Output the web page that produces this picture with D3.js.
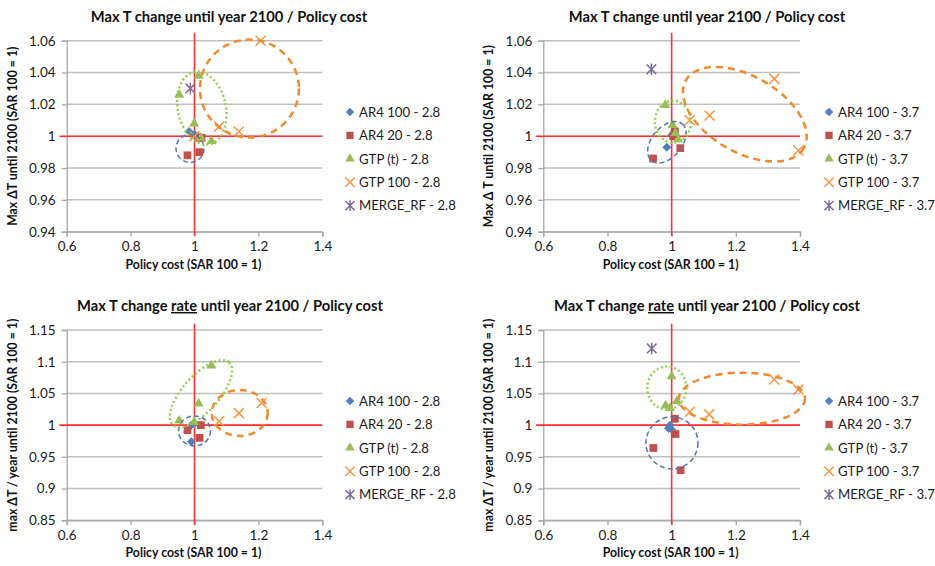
<!DOCTYPE html>
<html>
<head>
<meta charset="utf-8">
<script src="https://cdn.jsdelivr.net/npm/d3@7"></script>
<style>
  body { margin: 0; background: #fff; }
  svg { display: block; font-family: Lato, "Open Sans", sans-serif; }
</style>
</head>
<body>
<svg id="chart" width="935" height="566"></svg>
<script>
// --- data ---
const seriesNames = ["AR4 100", "AR4 20", "GTP (t)", "GTP 100", "MERGE_RF"];
const xTicks = [0.6, 0.8, 1, 1.2, 1.4];
const yTicksLevel = [0.94, 0.96, 0.98, 1, 1.02, 1.04, 1.06];
const yTicksRate = [0.85, 0.9, 0.95, 1, 1.05, 1.1, 1.15];

// max dT, scenario 2.8  [policy cost, value]
const lvl28_ar4_100 = [[0.983, 1.003], [1.0, 1.001], [1.01, 1.0]];
const lvl28_ar4_20  = [[0.978, 0.988], [1.015, 0.990], [1.012, 0.999], [1.022, 0.999]];
const lvl28_gtpT    = [[0.952, 1.026], [1.013, 1.038], [0.999, 1.008], [1.053, 0.997], [1.02, 0.999]];
const lvl28_gtp100  = [[1.207, 1.060], [1.077, 1.006], [1.139, 1.003], [1.0, 1.0]];
const lvl28_merge   = [[0.987, 1.030]];

// max dT, scenario 3.7
const lvl37_ar4_100 = [[0.985, 0.993], [1.0, 1.0006], [1.01, 1.003]];
const lvl37_ar4_20  = [[0.942, 0.986], [1.027, 0.9925], [1.005, 1.0], [1.01, 1.003]];
const lvl37_gtpT    = [[0.98, 1.0195], [1.003, 1.007], [1.012, 1.002], [1.02, 0.998]];
const lvl37_gtp100  = [[1.32, 1.036], [1.395, 0.991], [1.056, 1.010], [1.118, 1.013]];
const lvl37_merge   = [[0.937, 1.042]];

// max dT / year, scenario 2.8
const rate28_ar4_100 = [[0.99, 0.974], [0.99, 1.0], [1.0, 1.003]];
const rate28_ar4_20  = [[0.978, 0.992], [1.016, 0.980], [1.02, 1.0]];
const rate28_gtpT    = [[1.053, 1.094], [1.013, 1.034], [0.952, 1.007], [0.999, 1.005]];
const rate28_gtp100  = [[1.077, 1.006], [1.139, 1.019], [1.21, 1.035]];
const rate28_merge   = [];

// max dT / year, scenario 3.7
const rate37_ar4_100 = [[0.99, 0.995], [0.995, 1.0], [1.0, 0.993]];
const rate37_ar4_20  = [[1.01, 1.010], [1.012, 0.986], [0.943, 0.964], [1.028, 0.929]];
const rate37_gtpT    = [[1.0, 1.077], [0.981, 1.031], [1.016, 1.038], [0.995, 1.027]];
const rate37_gtp100  = [[1.32, 1.072], [1.395, 1.056], [1.057, 1.021], [1.117, 1.017]];
const rate37_merge   = [[0.938, 1.121]];

// hand-drawn group rings: [cx, cy, rx px, ry px, angle, series]
const lvl28_rings  = [[0.986, 0.9923, 14, 14, 0, 0], [1.023, 1.0176, 24, 37, -12, 2], [1.172, 1.0299, 49.5, 49, 0, 3]];
const lvl37_rings  = [[0.985, 0.9962, 24, 15, -50, 0], [1.004, 1.0091, 18, 21, 0, 2], [1.228, 1.0138, 68, 38, 30, 3]];
const rate28_rings = [[1.0, 0.9909, 16, 15, 0, 0], [1.02, 1.0497, 42, 18, -48, 2], [1.1416, 1.0192, 28, 23, 0, 3]];
const rate37_rings = [[1.001, 0.972, 26, 26, 0, 0], [0.985, 1.0586, 19.5, 21.5, 0, 2], [1.219, 1.0418, 63, 26, 0, 3]];

// red reference lines (x = 1, y = 1)
const refLevelX = [0.577, 1.4], refLevelY = [0.9375, 1.065];
const refRateX = [0.577, 1.4], refRateY = [0.843, 1.16];

// --- layout ---
const colors = ["#4F81BD", "#C0504D", "#9BBB59", "#F79646", "#7F6A9F"];
const ringStyle = [
  { stroke: "#5677AE", width: 1.5, dash: "5,3" },
  null,
  { stroke: "#92D050", width: 2.5, dash: "2,2.5" },
  { stroke: "#F08A30", width: 2.5, dash: "7,5" }
];

const panels = [
  { left: 66.7, right: 322.3, top: 40.7, bottom: 231.7, yDomain: [0.94, 1.06], yTicks: yTicksLevel,
    series: [lvl28_ar4_100, lvl28_ar4_20, lvl28_gtpT, lvl28_gtp100, lvl28_merge], rings: lvl28_rings,
    refX: refLevelX, refY: refLevelY, suffix: "2.8", rate: false,
    yLabel: "Max \u0394T  until  2100 (SAR 100 = 1)", titleX: 229, titleY: 22, legX: 350, legY: 112 },
  { left: 543.3, right: 800, top: 40.7, bottom: 231.7, yDomain: [0.94, 1.06], yTicks: yTicksLevel,
    series: [lvl37_ar4_100, lvl37_ar4_20, lvl37_gtpT, lvl37_gtp100, lvl37_merge], rings: lvl37_rings,
    refX: refLevelX, refY: refLevelY, suffix: "3.7", rate: false,
    yLabel: "Max \u0394 T until  2100  (SAR 100 = 1)", titleX: 707, titleY: 22, legX: 829, legY: 112 },
  { left: 66.7, right: 322.3, top: 330, bottom: 520.3, yDomain: [0.85, 1.15], yTicks: yTicksRate,
    series: [rate28_ar4_100, rate28_ar4_20, rate28_gtpT, rate28_gtp100, rate28_merge], rings: rate28_rings,
    refX: refRateX, refY: refRateY, suffix: "2.8", rate: true,
    yLabel: "max \u0394T / year  until  2100 (SAR 100 = 1)", titleX: 230, titleY: 311, legX: 350, legY: 401 },
  { left: 543.3, right: 800, top: 330, bottom: 520.3, yDomain: [0.85, 1.15], yTicks: yTicksRate,
    series: [rate37_ar4_100, rate37_ar4_20, rate37_gtpT, rate37_gtp100, rate37_merge], rings: rate37_rings,
    refX: refRateX, refY: refRateY, suffix: "3.7", rate: true,
    yLabel: "max \u0394T / year  until  2100 (SAR 100 = 1)", titleX: 707, titleY: 311, legX: 829, legY: 401 }
];

const svg = d3.select("#chart");

// marker shapes
function marker(sel, i, s) {
  const k = s || 1;
  if (i === 0) sel.append("path").attr("d", d3.symbol(d3.symbolSquare, 40 * k)()).attr("transform", "rotate(45)").attr("fill", colors[0]);
  else if (i === 1) sel.append("path").attr("d", d3.symbol(d3.symbolSquare, 60 * k)()).attr("fill", colors[1]);
  else if (i === 2) sel.append("path").attr("d", d3.symbol(d3.symbolTriangle, 44 * k)()).attr("fill", colors[2]);
  else if (i === 3) {
    const r = 5 * Math.sqrt(k);
    sel.append("path").attr("d", `M${-r},${-r}L${r},${r}M${-r},${r}L${r},${-r}`)
      .attr("stroke", colors[3]).attr("stroke-width", 1.5).attr("fill", "none");
  } else {
    const r = 4.8 * Math.sqrt(k);
    sel.append("path").attr("d", `M${-r},${-r}L${r},${r}M${-r},${r}L${r},${-r}M0,${-r * 1.2}L0,${r * 1.2}`)
      .attr("stroke", colors[4]).attr("stroke-width", 1.5).attr("fill", "none");
  }
}

panels.forEach(p => {
  const x = d3.scaleLinear().domain([0.6, 1.4]).range([p.left, p.right]);
  const y = d3.scaleLinear().domain(p.yDomain).range([p.bottom, p.top]);
  const g = svg.append("g");

  // gridlines
  g.selectAll(".grid").data(p.yTicks).enter().append("line")
    .attr("x1", p.left).attr("x2", p.right)
    .attr("y1", d => y(d)).attr("y2", d => y(d))
    .attr("stroke", "#BFBFBF").attr("stroke-width", 1.5);

  // axes
  const ya = g.append("g").attr("transform", `translate(${p.left},0)`)
    .call(d3.axisLeft(y).tickValues(p.yTicks).tickSize(5).tickPadding(6).tickFormat(String));
  const xa = g.append("g").attr("transform", `translate(0,${p.bottom})`)
    .call(d3.axisBottom(x).tickValues(xTicks).tickSize(5).tickPadding(5).tickFormat(String));
  [ya, xa].forEach(a => {
    a.select(".domain").attr("stroke", "#A6A6A6").attr("stroke-width", 1.3);
    a.selectAll(".tick line").attr("stroke", "#A6A6A6").attr("stroke-width", 1.3);
    a.selectAll(".tick text").attr("font-size", 13.5).attr("fill", "#1a1a1a").attr("font-family", "Lato, sans-serif");
  });

  // red reference lines
  g.append("line").attr("x1", x(p.refX[0])).attr("x2", x(p.refX[1]))
    .attr("y1", y(1)).attr("y2", y(1)).attr("stroke", "#FF3030").attr("stroke-width", 1.6);
  g.append("line").attr("x1", x(1)).attr("x2", x(1))
    .attr("y1", y(p.refY[0])).attr("y2", y(p.refY[1])).attr("stroke", "#FF3030").attr("stroke-width", 1.6);

  // points
  p.series.forEach((pts, i) => {
    g.selectAll(null).data(pts).enter().append("g")
      .attr("transform", d => `translate(${x(d[0])},${y(d[1])})`)
      .each(function () { marker(d3.select(this), i); });
  });

  // rings
  g.selectAll(".ring").data(p.rings).enter().append("ellipse")
    .attr("transform", d => `translate(${x(d[0])},${y(d[1])}) rotate(${d[4]})`)
    .attr("rx", d => d[2]).attr("ry", d => d[3])
    .attr("fill", "none")
    .attr("stroke", d => ringStyle[d[5]].stroke)
    .attr("stroke-width", d => ringStyle[d[5]].width)
    .attr("stroke-dasharray", d => ringStyle[d[5]].dash);

  // title
  const t = g.append("text").attr("x", p.titleX).attr("y", p.titleY).attr("text-anchor", "middle")
    .attr("font-size", 14.7).attr("font-weight", "bold").attr("fill", "#111");
  if (p.rate) {
    t.append("tspan").text("Max T change ");
    t.append("tspan").text("rate").attr("text-decoration", "underline");
    t.append("tspan").text(" until year 2100 / Policy cost");
  } else {
    t.text("Max T change until year 2100 / Policy cost");
  }

  // axis titles
  g.append("text").attr("x", (p.left + p.right) / 2 - 1).attr("y", p.bottom + 37)
    .attr("text-anchor", "middle").attr("font-size", 12.3).attr("font-weight", "bold").attr("fill", "#111")
    .text("Policy cost (SAR 100 = 1)");
  g.append("text")
    .attr("transform", `translate(${p.left - 50},${(p.top + p.bottom) / 2}) rotate(-90)`)
    .attr("text-anchor", "middle").attr("font-size", 12.3).attr("font-weight", "bold").attr("fill", "#111")
    .text(p.yLabel);

  // legend
  seriesNames.forEach((name, i) => {
    const row = g.append("g").attr("transform", `translate(${p.legX},${p.legY + i * 23.4})`);
    marker(row, i, 0.9);
    row.append("text").attr("x", 9).attr("y", 4.8).attr("font-size", 13.2).attr("fill", "#1a1a1a")
      .text(`${name} - ${p.suffix}`);
  });
});
</script>
</body>
</html>
